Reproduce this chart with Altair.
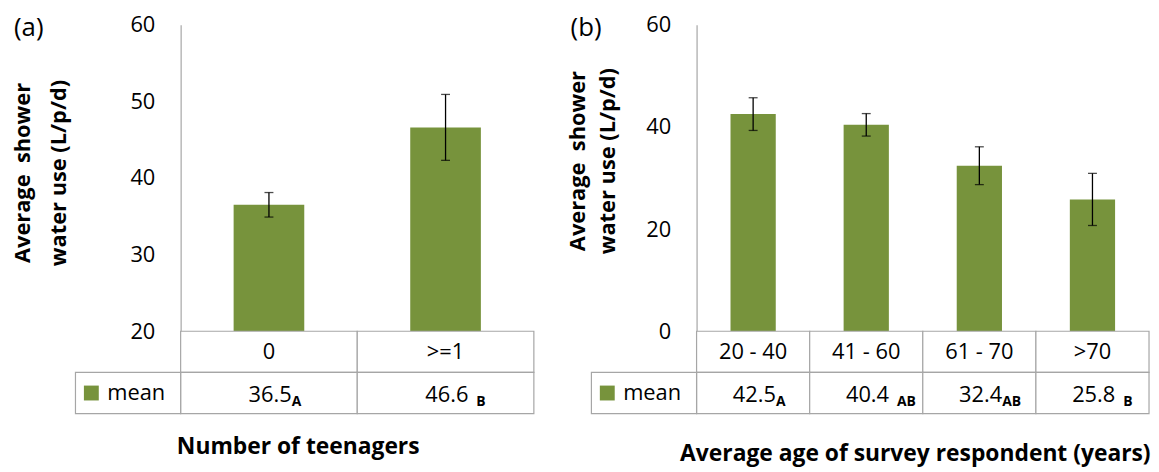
import altair as alt
import pandas as pd

# ---------------- data ----------------
teen_cats = ["0", ">=1"]
teen_means = [36.5, 46.6]
teen_err = [1.6, 4.3]
teen_letters = ["A", " B"]          # leading space = gap before the subscript, as printed

age_cats = ["20 - 40", "41 - 60", "61 - 70", ">70"]
age_means = [42.5, 40.4, 32.4, 25.8]
age_err = [3.2, 2.2, 3.7, 5.1]
age_letters = ["A", " AB", "AB", " B"]

teen_ticks = [20, 30, 40, 50, 60]
age_ticks = [0, 20, 40, 60]

y_title = ["Average\u00a0 shower", "water use (L/p/d)"]

GREEN = "#77933C"
GRID = "#A6A6A6"
FONT = "Open Sans"


def panel(cats, means, errs, letters, ticks, width, tag, tag_x,
          ytitle_pad, ytitle_lh, ytitle_y, xtitle, xtitle_x, xtitle_pad):
    df = pd.DataFrame({
        "cat": cats,
        "mean": means,
        "lo": [m - e for m, e in zip(means, errs)],
        "hi": [m + e for m, e in zip(means, errs)],
        "val": [f"{m:.1f}" for m in means],
        "letter": [s.strip() for s in letters],
        "gap": [s.startswith(" ") for s in letters],
    })
    ymin, ymax = ticks[0], ticks[-1]
    xscale = alt.Scale(domain=cats, paddingInner=0, paddingOuter=0)
    x = alt.X("cat:N", scale=xscale, sort=cats, axis=None)
    yscale = alt.Scale(domain=[ymin, ymax], zero=False, nice=False)
    y = alt.Y("mean:Q", scale=yscale, axis=alt.Axis(
        values=ticks, title=y_title, grid=False, ticks=False,
        domainColor=GRID, domainWidth=1.2,
        labelFontSize=22, labelPadding=26, labelColor="#000",
        titleFontSize=22, titleFontWeight="bold", titleColor="#000",
        titlePadding=ytitle_pad, titleLineHeight=ytitle_lh, titleY=ytitle_y))

    base = alt.Chart(df)
    bars = base.mark_bar(color=GREEN, width=alt.RelativeBandSize(0.4)).encode(
        x=x, y=y, y2=alt.datum(ymin))
    rule = base.mark_rule(color="black", strokeWidth=1.3).encode(
        x=x, y=alt.Y("lo:Q", scale=yscale), y2="hi:Q")
    cap_lo = base.mark_tick(color="black", orient="horizontal", size=9, thickness=1.3).encode(
        x=x, y=alt.Y("lo:Q", scale=yscale))
    cap_hi = base.mark_tick(color="black", orient="horizontal", size=9, thickness=1.3).encode(
        x=x, y=alt.Y("hi:Q", scale=yscale))
    tag_txt = alt.Chart(pd.DataFrame({"t": [tag]})).mark_text(
        fontSize=26, align="left", baseline="middle", font=FONT).encode(
        x=alt.value(tag_x), y=alt.value(3), text="t:N")

    top = alt.layer(bars, rule, cap_lo, cap_hi, tag_txt).properties(width=width, height=309)

    # ---------- table ----------
    rows = ["cat", "mean"]
    cells = pd.DataFrame([(c, r) for r in rows for c in cats], columns=["cat", "row"])
    tx = alt.X("cat:N", scale=xscale, sort=cats, axis=alt.Axis(
        labels=False, ticks=False, domain=False, grid=False, title=xtitle,
        titleFontSize=23, titleFontWeight="bold", titleColor="#000",
        titlePadding=xtitle_pad, titleX=xtitle_x, titleAlign="center"))
    ty = alt.Y("row:N", scale=alt.Scale(domain=rows, paddingInner=0, paddingOuter=0), axis=None)

    rects = alt.Chart(cells).mark_rect(fill="white", stroke=GRID, strokeWidth=1.2).encode(x=tx, y=ty)
    leg_df = pd.DataFrame({"row": ["mean"], "label": ["mean"]})
    leg_cell = alt.Chart(leg_df).mark_rect(fill="white", stroke=GRID, strokeWidth=1.2).encode(
        x=alt.value(-106), x2=alt.value(0), y=ty)
    leg_sq = alt.Chart(leg_df).mark_square(size=225, color=GREEN, opacity=1, filled=True).encode(
        x=alt.value(-90), y=ty)
    leg_txt = alt.Chart(leg_df).mark_text(align="left", baseline="middle", fontSize=22, font=FONT).encode(
        x=alt.value(-74), y=ty, text="label:N")

    cat_df = df.assign(row="cat")
    val_df = df.assign(row="mean")
    cat_txt = alt.Chart(cat_df).mark_text(fontSize=22, baseline="middle", font=FONT).encode(
        x=tx, y=ty, text="cat:N")
    val_txt = alt.Chart(val_df).mark_text(fontSize=22, baseline="middle", align="right", dx=23, dy=2,
                                          font=FONT).encode(x=tx, y=ty, text="val:N")
    let_tight = alt.Chart(val_df).transform_filter("!datum.gap").mark_text(
        fontSize=14, fontWeight="bold", baseline="middle", align="left",
        dx=23, dy=9, font=FONT).encode(x=tx, y=ty, text="letter:N")
    let_gap = alt.Chart(val_df).transform_filter("datum.gap").mark_text(
        fontSize=14, fontWeight="bold", baseline="middle", align="left",
        dx=31, dy=9, font=FONT).encode(x=tx, y=ty, text="letter:N")

    table = alt.layer(rects, leg_cell, leg_sq, leg_txt, cat_txt, val_txt, let_tight, let_gap).properties(
        width=width, height=83)

    return alt.vconcat(top, table, spacing=0, bounds="flush").resolve_scale(
        x="independent", y="independent")


pa = panel(teen_cats, teen_means, teen_err, teen_letters, teen_ticks, 356, "(a)", -168,
           ytitle_pad=60, ytitle_lh=36, ytitle_y=149,
           xtitle="Number of teenagers", xtitle_x=118, xtitle_pad=22)
pb = panel(age_cats, age_means, age_err, age_letters, age_ticks, 456, "(b)", -127,
           ytitle_pad=27, ytitle_lh=30, ytitle_y=137,
           xtitle="Average age of survey respondent (years)", xtitle_x=220, xtitle_pad=29)

chart = alt.hconcat(pa, pb, spacing=31).resolve_scale(
    x="independent", y="independent"
).properties(
    padding={"left": 3, "top": 4, "right": 0, "bottom": 0}
).configure(font=FONT).configure_view(stroke=None)

chart.save("out.html", embed_options={"renderer": "svg", "actions": False})
